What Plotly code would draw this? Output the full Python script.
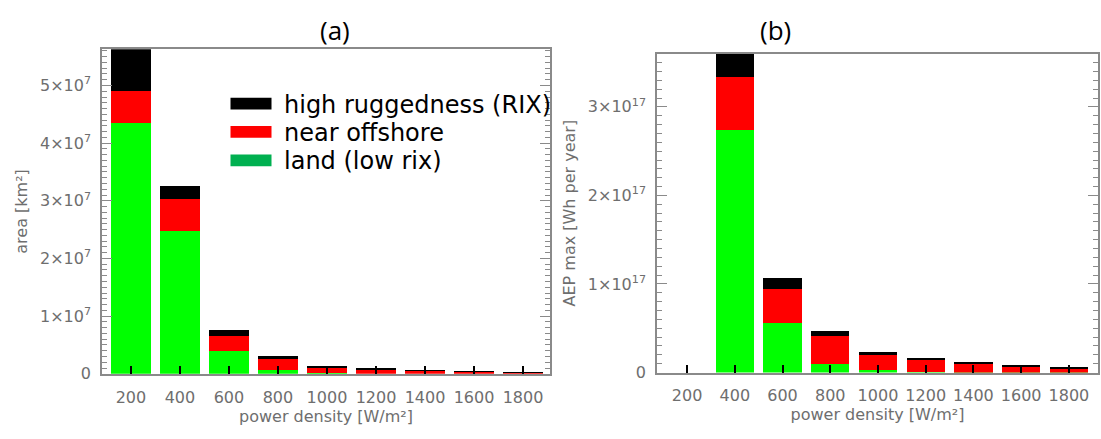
import plotly.graph_objects as go

# power density classes [W/m²]
power_density = [200, 400, 600, 800, 1000, 1200, 1400, 1600, 1800]

# (a) area per class [km²]
area_land = [4.35e7, 2.48e7, 0.39e7, 0.06e7, 0.01e7, 0.0, 0.0, 0.0, 0.0]
area_near_offshore = [0.55e7, 0.55e7, 0.27e7, 0.19e7, 0.10e7, 0.075e7, 0.055e7, 0.03e7, 0.02e7]
area_high_rix = [0.90e7, 0.22e7, 0.09e7, 0.05e7, 0.015e7, 0.006e7, 0.004e7, 0.002e7, 0.001e7]

# (b) maximum annual energy production per class [Wh per year]
aep_land = [0.0, 2.74e17, 0.563e17, 0.10e17, 0.03e17, 0.005e17, 0.003e17, 0.002e17, 0.001e17]
aep_near_offshore = [0.0, 0.60e17, 0.386e17, 0.313e17, 0.17e17, 0.14e17, 0.105e17, 0.07e17, 0.052e17]
aep_high_rix = [0.0, 0.40e17, 0.12e17, 0.063e17, 0.03e17, 0.022e17, 0.019e17, 0.005e17, 0.003e17]

area_ticks = [0, 1e7, 2e7, 3e7, 4e7, 5e7]
area_ticktext = ["0", "1×10<sup>7</sup>", "2×10<sup>7</sup>", "3×10<sup>7</sup>",
                 "4×10<sup>7</sup>", "5×10<sup>7</sup>"]
aep_ticks = [0, 1e17, 2e17, 3e17]
aep_ticktext = ["0", "1×10<sup>17</sup>", "2×10<sup>17</sup>", "3×10<sup>17</sup>"]

legend_labels = ["high ruggedness (RIX)", "near offshore", "land (low rix)"]
legend_colors = ["#000000", "#ff0000", "#00b050"]

GREEN, RED, BLACK = "#00ff00", "#ff0000", "#000000"
W, H = 1101, 439
FRAME = "#8a8a8a"
LABEL = "#6e6e6e"
FONT = "DejaVu Sans"


def px(x):
    return x / W


def py(y):
    return 1 - y / H


fig = go.Figure()

for xa, ya, series in [
    ("x", "y", [area_land, area_near_offshore, area_high_rix]),
    ("x2", "y2", [aep_land, aep_near_offshore, aep_high_rix]),
]:
    for vals, col in zip(series, [GREEN, RED, BLACK]):
        fig.add_trace(go.Bar(
            x=power_density, y=vals, width=160,
            marker=dict(color=col, line=dict(width=0)),
            xaxis=xa, yaxis=ya, showlegend=False, hoverinfo="skip",
        ))

xcommon = dict(
    tickvals=power_density, ticks="inside", ticklen=8, tickwidth=1.5,
    tickcolor="#000000", showline=True, linecolor=FRAME, linewidth=1.5,
    mirror=True, showgrid=False, zeroline=False, ticklabelstandoff=8,
    tickfont=dict(family=FONT, size=16, color=LABEL),
    title=dict(text="power density [W/m²]", standoff=0,
               font=dict(family=FONT, size=16, color=LABEL)),
)
ycommon = dict(
    ticks="inside", ticklen=10, tickwidth=1.2, tickcolor=FRAME,
    showline=True, linecolor=FRAME, linewidth=1.5, mirror="ticks",
    showgrid=False, zeroline=False, ticklabelstandoff=6,
    tickfont=dict(family=FONT, size=16, color=LABEL),
)

fig.update_layout(
    width=W, height=H, barmode="stack", bargap=0,
    margin=dict(l=0, r=0, t=0, b=0),
    plot_bgcolor="white", paper_bgcolor="white",
    xaxis=dict(domain=[px(102), px(550)], range=[82, 1910], anchor="y", **xcommon),
    xaxis2=dict(domain=[px(657), px(1098)], range=[74, 1922], anchor="y2", **xcommon),
    yaxis=dict(domain=[py(382.5), py(50.3)], range=[0, 5.63e7], anchor="x",
               tickvals=area_ticks, ticktext=area_ticktext,
               minor=dict(dtick=1e6, ticks="inside", ticklen=5, tickcolor=FRAME),
               title=dict(text="area [km²]", standoff=8,
                          font=dict(family=FONT, size=16, color=LABEL)),
               **ycommon),
    yaxis2=dict(domain=[py(381.2), py(55)], range=[0, 3.6e17], anchor="x2",
                tickvals=aep_ticks, ticktext=aep_ticktext,
                minor=dict(dtick=1e16, ticks="inside", ticklen=5, tickcolor=FRAME),
                title=dict(text="AEP max [Wh per year]", standoff=8,
                           font=dict(family=FONT, size=16, color=LABEL)),
                **ycommon),
)

# panel titles
for label, xc in [("(a)", 335), ("(b)", 775)]:
    fig.add_annotation(text=label, x=px(xc), y=py(31), xref="paper", yref="paper",
                       showarrow=False, xanchor="center", yanchor="middle",
                       font=dict(family="Open Sans", size=26, color="#000000"))

# legend drawn inside panel (a)
for i, (lab, col) in enumerate(zip(legend_labels, legend_colors)):
    yc = 106 + i * 29
    fig.add_shape(type="rect", xref="paper", yref="paper",
                  x0=px(230.5), x1=px(271.5), y0=py(yc - 6), y1=py(yc + 6),
                  fillcolor=col, line=dict(width=0))
    fig.add_annotation(text=lab, x=px(282), y=py(yc + 1), xref="paper", yref="paper",
                       showarrow=False, xanchor="left", yanchor="middle",
                       font=dict(family=FONT, size=24, color="#000000"))

fig.write_html("out.html")
